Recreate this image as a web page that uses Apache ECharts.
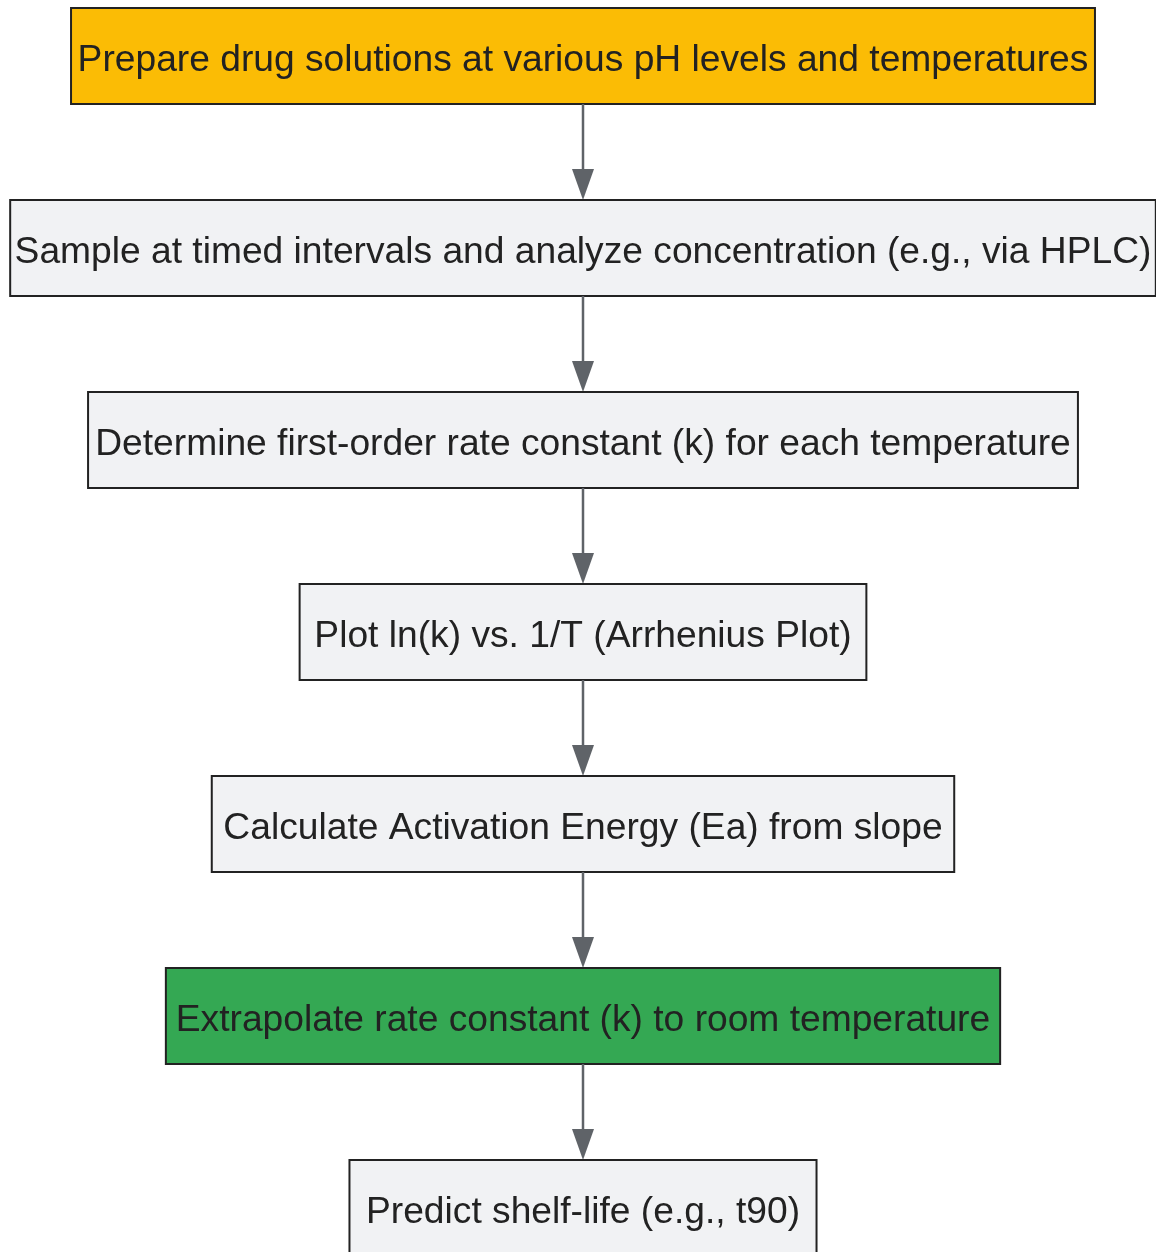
<!DOCTYPE html>
<html>
<head>
<meta charset="utf-8">
<script src="https://cdn.jsdelivr.net/npm/echarts@6/dist/echarts.min.js"></script>
<style>
  html, body { margin: 0; padding: 0; background: #fff; }
  #chart { width: 1156px; height: 1252px; }
</style>
</head>
<body>
<div id="chart"></div>
<script>
// flow steps, top to bottom
var steps = [
  'Prepare drug solutions at various pH levels and temperatures',
  'Sample at timed intervals and analyze concentration (e.g., via HPLC)',
  'Determine first-order rate constant (k) for each temperature',
  'Plot ln(k) vs. 1/T (Arrhenius Plot)',
  'Calculate Activation Energy (Ea) from slope',
  'Extrapolate rate constant (k) to room temperature',
  'Predict shelf-life (e.g., t90)'
];
// kind of each step
var kinds = ['start', 'normal', 'normal', 'normal', 'normal', 'result', 'normal'];

var fills = { start: '#fbbc05', normal: '#f1f2f4', result: '#34a853' };
var FONT = '37.2px "Liberation Sans", Arial, sans-serif';

var measureCtx = document.createElement('canvas').getContext('2d');
measureCtx.font = FONT;
function boxWidth(label) {
  var tw = measureCtx.measureText(label).width;
  return tw * 0.9655 + 48;
}

var chart = echarts.init(document.getElementById('chart'));

function renderStep(params, api) {
  var i = params.dataIndex;
  var c = api.coord([0, i]);
  var band = api.size([0, 1])[1];
  var h = band * 0.5;
  var w = boxWidth(steps[i]);
  var children = [];

  if (i > 0) {
    var prevBottom = api.coord([0, i - 1])[1] + h / 2;
    var top = c[1] - h / 2;
    children.push({
      type: 'line',
      shape: { x1: c[0], y1: prevBottom, x2: c[0], y2: top - 28 },
      style: { stroke: '#5f6368', lineWidth: 2.5 }
    });
    children.push({
      type: 'polygon',
      shape: { points: [[c[0] - 11, top - 31], [c[0] + 11, top - 31], [c[0], top]] },
      style: { fill: '#5f6368' }
    });
  }

  children.push({
    type: 'rect',
    shape: { x: c[0] - w / 2, y: c[1] - h / 2, width: w, height: h },
    style: { fill: fills[kinds[i]], stroke: '#222', lineWidth: 2 }
  });
  children.push({
    type: 'text',
    style: {
      x: c[0], y: c[1] + 5,
      text: steps[i],
      font: FONT,
      fill: '#222',
      align: 'center',
      verticalAlign: 'middle'
    }
  });
  return { type: 'group', children: children };
}

var option = {
  animation: false,
  grid: { left: 0, right: 0, top: 0, bottom: 0 },
  xAxis: { type: 'value', min: -583, max: 573, show: false },
  // one unit per step, 192px apart, first step centred at 56px
  yAxis: { type: 'value', min: -0.2917, max: 6.2292, inverse: true, show: false },
  series: [{
    type: 'custom',
    renderItem: renderStep,
    data: steps.map(function (s, i) { return [0, i]; }),
    encode: { x: 0, y: 1 },
    clip: false
  }]
};

chart.setOption(option);
</script>
</body>
</html>
